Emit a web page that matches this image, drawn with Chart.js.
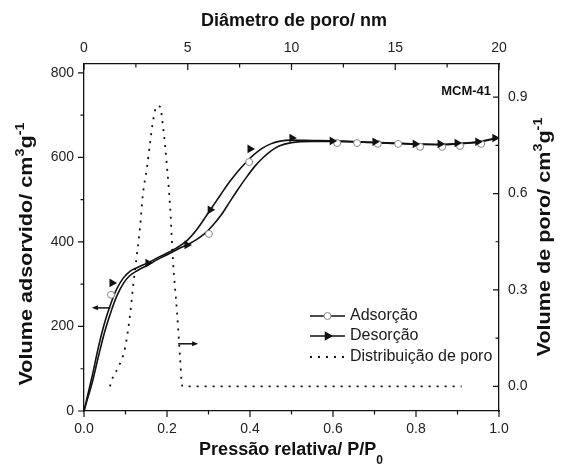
<!DOCTYPE html>
<html>
<head>
<meta charset="utf-8">
<script src="https://cdn.jsdelivr.net/npm/chart.js@4.4.0/dist/chart.umd.min.js"></script>
<style>
  html, body { margin: 0; padding: 0; background: #fff; }
</style>
</head>
<body>
<canvas id="isoChart" width="562" height="464"></canvas>
<script>
"use strict";

// isotherm curves: relative pressure P/P0 vs adsorbed volume (cm3/g)
var adsP = [0, 0.01, 0.02, 0.035, 0.05, 0.065, 0.08, 0.095, 0.11, 0.13, 0.155, 0.18, 0.205, 0.23, 0.25, 0.27, 0.29, 0.31, 0.33, 0.35, 0.37, 0.39, 0.41, 0.43, 0.45, 0.47, 0.5, 0.55, 0.6, 0.7, 0.8, 0.86, 0.9, 0.95, 0.99];
var adsV = [0, 34, 68, 130, 188, 235, 274, 302, 320, 333, 346, 360, 372, 385, 394, 405, 419, 439, 463, 493, 523, 551, 577, 598, 615, 627, 635, 638, 638, 635, 631, 630, 632, 636, 644];
var desP = [0, 0.01, 0.02, 0.035, 0.05, 0.065, 0.08, 0.095, 0.11, 0.13, 0.155, 0.18, 0.205, 0.23, 0.25, 0.27, 0.29, 0.31, 0.33, 0.35, 0.37, 0.39, 0.41, 0.43, 0.45, 0.47, 0.5, 0.55, 0.6, 0.7, 0.8, 0.86, 0.9, 0.95, 0.99];
var desV = [0, 42, 84, 152, 210, 255, 291, 315, 330, 340, 351, 364, 376, 390, 405, 427, 455, 484, 513, 541, 566, 588, 607, 622, 632, 638, 641, 640, 639, 636, 632, 631, 633, 637, 645];

// measured points drawn as markers
var adsMarkP = [0.065, 0.301, 0.398, 0.61, 0.658, 0.708, 0.757, 0.81, 0.863, 0.906, 0.957];
var adsMarkV = [275, 419, 589, 634, 634, 632, 632, 625, 625, 627, 632];
var desMarkP = [0.0675, 0.154, 0.248, 0.304, 0.4, 0.501, 0.598, 0.701, 0.798, 0.858, 0.899, 0.949, 0.99];
var desMarkV = [303, 350, 393, 476, 620, 646, 639, 637, 632, 632, 634, 637, 646];

// pore size distribution: diameter (nm) vs pore volume (cm3/g)
var poreD = [1.25, 1.40, 1.64, 1.98, 2.22, 2.36, 2.55, 2.70, 2.84, 3.04, 3.18, 3.33, 3.52, 3.66, 3.81, 4.00, 4.15, 4.29, 4.48, 4.63, 4.72, 4.77, 18.2];
var poreV = [0, 0.03, 0.058, 0.12, 0.223, 0.308, 0.411, 0.495, 0.598, 0.683, 0.755, 0.827, 0.873, 0.87, 0.808, 0.683, 0.558, 0.389, 0.233, 0.089, 0.005, 0, 0];

// tick values
var pMajor = [0, 0.2, 0.4, 0.6, 0.8, 1.0];
var pMinor = [0.1, 0.3, 0.5, 0.7, 0.9];
var vMajor = [0, 200, 400, 600, 800];
var vMinor = [100, 300, 500, 700];
var dMajor = [0, 5, 10, 15, 20];
var dMinor = [2.5, 7.5, 12.5, 17.5];
var poreMajor = [0, 0.3, 0.6, 0.9];
var poreMinor = [0.15, 0.45, 0.75];

var FONT = '"Liberation Sans", Arial, sans-serif';
var INK = '#111';

function pts(xs, ys) {
    return xs.map(function(x, i) { return { x: x, y: ys[i] }; });
}
function fixTicks(list) {
    return function(s) { s.ticks = list.map(function(v) { return { value: v }; }); };
}

// draw a string made of pieces with different sizes / baseline shifts
function drawRich(ctx, parts, cx, cy, angle, stretch) {
    ctx.save();
    ctx.translate(cx, cy);
    ctx.rotate(angle);
    ctx.scale(stretch, 1);
    ctx.fillStyle = INK;
    ctx.textBaseline = 'alphabetic';
    ctx.textAlign = 'left';
    var total = 0;
    parts.forEach(function(p) {
        ctx.font = 'bold ' + p.size + 'px ' + FONT;
        p.w = ctx.measureText(p.text).width;
        total += p.w;
    });
    var x = -total / 2;
    parts.forEach(function(p) {
        ctx.font = 'bold ' + p.size + 'px ' + FONT;
        ctx.fillText(p.text, x, 6 + (p.dy || 0));
        x += p.w;
    });
    ctx.restore();
}

function arrow(ctx, x1, y1, x2, y2) {
    var dir = x2 > x1 ? 1 : -1;
    ctx.beginPath();
    ctx.moveTo(x1, y1);
    ctx.lineTo(x2 - dir * 4, y2);
    ctx.stroke();
    ctx.beginPath();
    ctx.moveTo(x2, y2);
    ctx.lineTo(x2 - dir * 6, y2 - 2.5);
    ctx.lineTo(x2 - dir * 6, y2 + 2.5);
    ctx.closePath();
    ctx.fill();
}

function triangleRight(ctx, x, y, r) {
    ctx.beginPath();
    ctx.moveTo(x + r, y);
    ctx.lineTo(x - r * 0.5, y - r * 0.87);
    ctx.lineTo(x - r * 0.5, y + r * 0.87);
    ctx.closePath();
    ctx.fill();
}

var decorations = {
    id: 'decorations',
    afterDraw: function(chart) {
        var ctx = chart.ctx;
        var a = chart.chartArea;
        var sx = chart.scales.x, sy = chart.scales.y, sx2 = chart.scales.x2, sy2 = chart.scales.y2;
        ctx.save();
        ctx.strokeStyle = INK;
        ctx.fillStyle = INK;
        ctx.lineWidth = 1.2;

        // tick marks: bottom/left outward, top/right inward
        function marks(list, len, fn) {
            list.forEach(function(v) { fn(v, len); });
        }
        ctx.beginPath();
        var bx = function(v, l) { var p = sx.getPixelForValue(v); ctx.moveTo(p, a.bottom); ctx.lineTo(p, a.bottom + l); };
        var ly = function(v, l) { var p = sy.getPixelForValue(v); ctx.moveTo(a.left, p); ctx.lineTo(a.left - l, p); };
        var tx = function(v, l) { var p = sx2.getPixelForValue(v); ctx.moveTo(p, a.top); ctx.lineTo(p, a.top + l); };
        var ry = function(v, l) { var p = sy2.getPixelForValue(v); ctx.moveTo(a.right, p); ctx.lineTo(a.right - l, p); };
        marks(pMajor, 6, bx); marks(pMinor, 3.5, bx);
        marks(vMajor, 6, ly); marks(vMinor, 3.5, ly);
        marks(dMajor, 6, tx); marks(dMinor, 3.5, tx);
        marks(poreMajor, 6, ry); marks(poreMinor, 3.5, ry);
        ctx.stroke();

        // arrows showing which axis each curve belongs to
        ctx.lineWidth = 1.5;
        arrow(ctx, sx.getPixelForValue(0.063), sy.getPixelForValue(244), sx.getPixelForValue(0.019), sy.getPixelForValue(244));
        arrow(ctx, sx.getPixelForValue(0.227), sy.getPixelForValue(159), sx.getPixelForValue(0.275), sy.getPixelForValue(159));

        // sample name
        ctx.font = 'bold 13px ' + FONT;
        ctx.textAlign = 'right';
        ctx.textBaseline = 'middle';
        ctx.fillText('MCM-41', a.right - 8, a.top + 27);

        // legend
        var lx1 = 310, lx2 = 345, tx0 = 350;
        var rows = [316, 336, 357];
        ctx.font = '16px ' + FONT;
        ctx.textAlign = 'left';
        ctx.fillStyle = '#1a1a1a';
        ctx.fillText('Adsorção', tx0, rows[0]);
        ctx.fillText('Desorção', tx0, rows[1]);
        ctx.fillText('Distribuição de poro', tx0, rows[2]);
        ctx.fillStyle = INK;
        ctx.lineWidth = 1.6;
        ctx.beginPath();
        ctx.moveTo(lx1, rows[0]); ctx.lineTo(lx2, rows[0]);
        ctx.moveTo(lx1, rows[1]); ctx.lineTo(lx2, rows[1]);
        ctx.stroke();
        ctx.beginPath();
        ctx.arc((lx1 + lx2) / 2, rows[0], 3.5, 0, Math.PI * 2);
        ctx.fillStyle = '#fff';
        ctx.fill();
        ctx.strokeStyle = '#888';
        ctx.lineWidth = 1;
        ctx.stroke();
        ctx.fillStyle = INK;
        triangleRight(ctx, (lx1 + lx2) / 2, rows[1], 5.5);
        ctx.strokeStyle = INK;
        ctx.lineWidth = 1.8;
        ctx.setLineDash([2, 6]);
        ctx.beginPath();
        ctx.moveTo(lx1, rows[2]); ctx.lineTo(lx2, rows[2]);
        ctx.stroke();
        ctx.setLineDash([]);

        // axis titles
        drawRich(ctx, [{ text: 'Diâmetro de poro/ nm', size: 18 }], 294, 20, 0, 1);
        drawRich(ctx, [{ text: 'Pressão relativa/ P/P', size: 18 }, { text: '0', size: 12, dy: 9 }], 291, 449, 0, 1);
        drawRich(ctx, [{ text: 'Volume adsorvido/ cm', size: 18 }, { text: '3', size: 12, dy: -8 },
                       { text: 'g', size: 18 }, { text: '-1', size: 12, dy: -8 }], 26, 254, -Math.PI / 2, 1.2);
        drawRich(ctx, [{ text: 'Volume de poro/ cm', size: 18 }, { text: '3', size: 12, dy: -8 },
                       { text: 'g', size: 18 }, { text: '-1', size: 12, dy: -8 }], 544, 237, -Math.PI / 2, 1.2);
        ctx.restore();
    }
};

var tickFont = { size: 14, family: FONT };
var axisBorder = { color: INK, width: 1.3 };
var noGrid = { drawOnChartArea: false, drawTicks: false };

var ctx = document.getElementById('isoChart').getContext('2d');
var isoChart = new Chart(ctx, {
    type: 'line',
    data: {
        datasets: [{
            label: 'Desorção pontos',
            data: pts(desMarkP, desMarkV),
            xAxisID: 'x', yAxisID: 'y',
            showLine: false,
            pointStyle: 'triangle',
            rotation: 90,
            pointRadius: 5,
            backgroundColor: INK,
            borderColor: INK,
            borderWidth: 0
        }, {
            label: 'Adsorção pontos',
            data: pts(adsMarkP, adsMarkV),
            xAxisID: 'x', yAxisID: 'y',
            showLine: false,
            pointStyle: 'circle',
            pointRadius: 3.5,
            backgroundColor: '#fff',
            borderColor: '#888',
            borderWidth: 1
        }, {
            label: 'Adsorção',
            data: pts(adsP, adsV),
            xAxisID: 'x', yAxisID: 'y',
            borderColor: INK,
            borderWidth: 1.6,
            pointRadius: 0,
            cubicInterpolationMode: 'monotone'
        }, {
            label: 'Desorção',
            data: pts(desP, desV),
            xAxisID: 'x', yAxisID: 'y',
            borderColor: INK,
            borderWidth: 1.6,
            pointRadius: 0,
            cubicInterpolationMode: 'monotone'
        }, {
            label: 'Distribuição de poro',
            data: pts(poreD, poreV),
            xAxisID: 'x2', yAxisID: 'y2',
            borderColor: INK,
            borderWidth: 1.8,
            borderDash: [2, 6],
            pointRadius: 0,
            cubicInterpolationMode: 'monotone'
        }]
    },
    options: {
        responsive: false,
        animation: false,
        layout: { padding: 0 },
        plugins: {
            legend: { display: false },
            tooltip: { enabled: false }
        },
        scales: {
            x: {
                type: 'linear', position: 'bottom', min: 0, max: 1,
                afterBuildTicks: fixTicks(pMajor),
                afterFit: function(s) { s.height = 53; },
                grid: noGrid, border: axisBorder,
                ticks: { padding: 10, font: tickFont, color: '#222', maxRotation: 0,
                         callback: function(v) { return v.toFixed(1); } }
            },
            x2: {
                type: 'linear', position: 'top', min: 0, max: 20,
                afterBuildTicks: fixTicks(dMajor),
                afterFit: function(s) { s.height = 64; },
                grid: noGrid, border: axisBorder,
                ticks: { padding: 7, font: tickFont, color: '#222', maxRotation: 0 }
            },
            y: {
                type: 'linear', position: 'left', min: 0, max: 821,
                afterBuildTicks: fixTicks(vMajor),
                afterFit: function(s) { s.width = 84; },
                grid: noGrid, border: axisBorder,
                ticks: { padding: 10, font: tickFont, color: '#222' }
            },
            y2: {
                type: 'linear', position: 'right', min: -0.0766, max: 1.003,
                afterBuildTicks: fixTicks(poreMajor),
                afterFit: function(s) { s.width = 63; },
                grid: noGrid, border: axisBorder,
                ticks: { padding: 9, font: tickFont, color: '#222',
                         callback: function(v) { return v.toFixed(1); } }
            }
        }
    },
    plugins: [decorations]
});
</script>
</body>
</html>
